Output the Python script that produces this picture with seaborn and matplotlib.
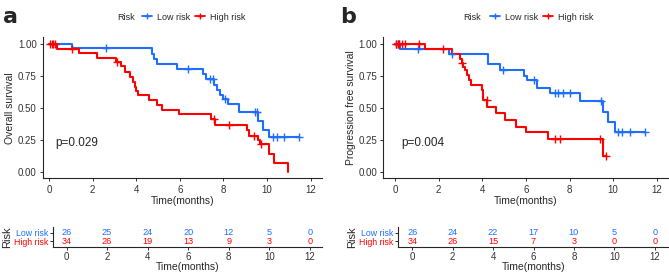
import numpy as np
import pandas as pd
import matplotlib
matplotlib.use("Agg")
import matplotlib.pyplot as plt
import seaborn as sns
from matplotlib.lines import Line2D

# panel a - overall survival
os_low_t = [0, 1.04, 4.71, 4.8, 4.94, 5.86, 7.08, 7.2, 7.55, 7.7, 7.82, 8.0, 8.2, 8.72, 9.57, 9.83, 10.1]
os_low_s = [1.0, 0.962, 0.92, 0.88, 0.84, 0.80, 0.766, 0.727, 0.675, 0.636, 0.60, 0.57, 0.527, 0.467, 0.40, 0.33, 0.27]
os_low_cens = [2.61, 6.36, 7.4, 7.5, 8.06, 9.45, 9.52, 10.26, 10.44, 10.78, 11.47]
os_high_t = [0, 0.35, 1.35, 2.19, 3.07, 3.3, 3.49, 3.72, 3.84, 3.92, 3.98, 4.1, 4.56, 4.95, 5.2, 5.96, 7.45, 7.6,
             9.07, 9.15, 9.57, 9.68, 10.1, 10.3, 10.95]
os_high_s = [1.0, 0.96, 0.927, 0.89, 0.857, 0.822, 0.78, 0.74, 0.70, 0.66, 0.63, 0.60, 0.558, 0.52, 0.48, 0.45, 0.41, 0.369,
             0.325, 0.278, 0.247, 0.22, 0.143, 0.07, 0.0]
os_high_cens = [0.05, 0.12, 0.2, 0.27, 1.05, 3.12, 7.58, 8.26, 9.4, 9.72]
os_risk_low = [26, 25, 24, 20, 12, 5, 0]
os_risk_high = [34, 26, 19, 13, 9, 3, 0]

# panel b - progression free survival
pfs_low_t = [0, 0.23, 2.45, 4.28, 4.79, 5.89, 6.07, 6.5, 7.11, 8.46, 9.52, 9.78, 10.08]
pfs_low_s = [1.0, 0.96, 0.917, 0.844, 0.797, 0.745, 0.714, 0.657, 0.618, 0.55, 0.467, 0.39, 0.31]
pfs_low_cens = [0.05, 0.12, 0.18, 1.04, 2.62, 4.94, 6.35, 7.34, 7.49, 7.69, 8.0, 9.43, 10.24, 10.43, 10.78, 11.44]
pfs_high_t = [0, 1.35, 2.6, 2.98, 3.05, 3.12, 3.2, 3.3, 3.4, 3.48, 3.98, 4.05, 4.22, 4.65, 5.05, 5.54, 6.0, 7.0, 9.54]
pfs_high_s = [1.0, 0.96, 0.92, 0.88, 0.85, 0.82, 0.79, 0.753, 0.714, 0.68, 0.636, 0.558, 0.506, 0.455, 0.408, 0.35, 0.307, 0.255, 0.122]
pfs_high_cens = [0.05, 0.12, 0.2, 0.3, 0.45, 1.1, 2.2, 3.08, 4.2, 7.34, 7.57, 9.4, 9.69]
pfs_risk_low = [26, 24, 22, 17, 10, 5, 0]
pfs_risk_high = [34, 26, 15, 7, 3, 0, 0]

risk_times = [0, 2, 4, 6, 8, 10, 12]
groups = ["Low risk", "High risk"]
colors = {"Low risk": "#1f6fff", "High risk": "#ff0000"}

sns.set_theme(style="ticks")
plt.rcParams["font.family"] = ["Liberation Sans", "DejaVu Sans"]

fig = plt.figure(figsize=(6.69, 2.72), dpi=100)


def step_frame(t, s, cens, name):
    t = list(t)
    s = list(s)
    if cens and max(cens) > t[-1]:
        t.append(max(cens))
        s.append(s[-1])
    curve = pd.DataFrame({"time": t, "surv": s, "Risk": name})
    idx = np.searchsorted(np.array(t), np.array(cens), side="right") - 1
    marks = pd.DataFrame({"time": cens, "surv": np.array(s)[idx], "Risk": name})
    return curve, marks


def km_panel(ax, series, ylabel, ptext, xlim):
    for name, (t, s, cens) in zip(groups, series):
        curve, marks = step_frame(t, s, cens, name)
        sns.lineplot(data=curve, x="time", y="surv", color=colors[name], drawstyle="steps-post",
                     estimator=None, sort=False, lw=1.5, ax=ax)
        sns.scatterplot(data=marks, x="time", y="surv", color=colors[name], marker="+",
                        s=30, linewidth=1.0, ax=ax, zorder=3)
    ax.set_xlim(*xlim)
    ax.set_ylim(-0.05, 1.05)
    ax.set_xticks(range(0, 13, 2))
    ax.set_yticks([0, 0.25, 0.5, 0.75, 1.0])
    ax.set_yticklabels(["0.00", "0.25", "0.50", "0.75", "1.00"])
    ax.set_xlabel("Time(months)", fontsize=7.5, labelpad=1)
    ax.set_ylabel(ylabel, fontsize=7.5, labelpad=2)
    ax.tick_params(labelsize=7, length=2.5, width=0.7, colors="#333333", pad=2)
    ax.text(0.3, 0.2, ptext, fontsize=8.5)
    sns.despine(ax=ax)
    for sp in ["left", "bottom"]:
        ax.spines[sp].set_linewidth(0.8)


def risk_table(ax, low, high, xlim):
    for row, (name, vals) in enumerate(zip(["High risk", "Low risk"], [high, low])):
        for x, v in zip(risk_times, vals):
            ax.text(x, row, str(v), color=colors[name], fontsize=6.6, ha="center", va="center")
    ax.set_xlim(*xlim)
    ax.set_ylim(-0.67, 1.65)
    ax.set_xticks(risk_times)
    ax.set_yticks([0, 1])
    ax.set_yticklabels(["High risk", "Low risk"])
    for lab, name in zip(ax.get_yticklabels(), ["High risk", "Low risk"]):
        lab.set_color(colors[name])
    ax.set_xlabel("Time(months)", fontsize=7.5, labelpad=0)
    ax.set_ylabel("Risk", fontsize=8, labelpad=1)
    ax.tick_params(axis="x", labelsize=7, length=2.5, width=0.7, colors="#333333", pad=1)
    ax.tick_params(axis="y", labelsize=6.3, length=2.5, width=0.7, pad=1)
    sns.despine(ax=ax)
    for sp in ["left", "bottom"]:
        ax.spines[sp].set_linewidth(0.8)


ax_a = fig.add_axes([0.0643, 0.3445, 0.4170, 0.519])
km_panel(ax_a, [(os_low_t, os_low_s, os_low_cens), (os_high_t, os_high_s, os_high_cens)],
         "Overall survival", "p=0.029", (-0.28, 12.52))
ax_at = fig.add_axes([0.0792, 0.093, 0.402, 0.0724])
risk_table(ax_at, os_risk_low, os_risk_high, (-0.67, 12.6))

ax_b = fig.add_axes([0.573, 0.3445, 0.4256, 0.519])
km_panel(ax_b, [(pfs_low_t, pfs_low_s, pfs_low_cens), (pfs_high_t, pfs_high_s, pfs_high_cens)],
         "Progression free survival", "p=0.004", (-0.54, 12.52))
ax_bt = fig.add_axes([0.595, 0.093, 0.405, 0.0724])
risk_table(ax_bt, pfs_risk_low, pfs_risk_high, (-0.7, 12.7))

handles = [Line2D([0], [0], color=colors[g], lw=1.3, marker="+", markersize=5) for g in groups]
for hx, rx, lbl, lx in [(0.213, 0.176, "a", 0.004), (0.733, 0.692, "b", 0.508)]:
    fig.legend(handles, groups, loc="center left", bbox_to_anchor=(hx, 0.937), ncol=2, frameon=False,
               fontsize=6.5, handlelength=1.1, handletextpad=0.5, columnspacing=0.6,
               borderpad=0, borderaxespad=0)
    fig.text(rx, 0.937, "Risk", fontsize=6.5, va="center", ha="left")
    fig.text(lx, 0.975, lbl, fontsize=16, fontweight="bold", va="top", ha="left",
             family=["DejaVu Sans"])

for ax in [ax_a, ax_b]:
    if ax.get_legend():
        ax.get_legend().remove()

fig.savefig("out.png", dpi=100)
